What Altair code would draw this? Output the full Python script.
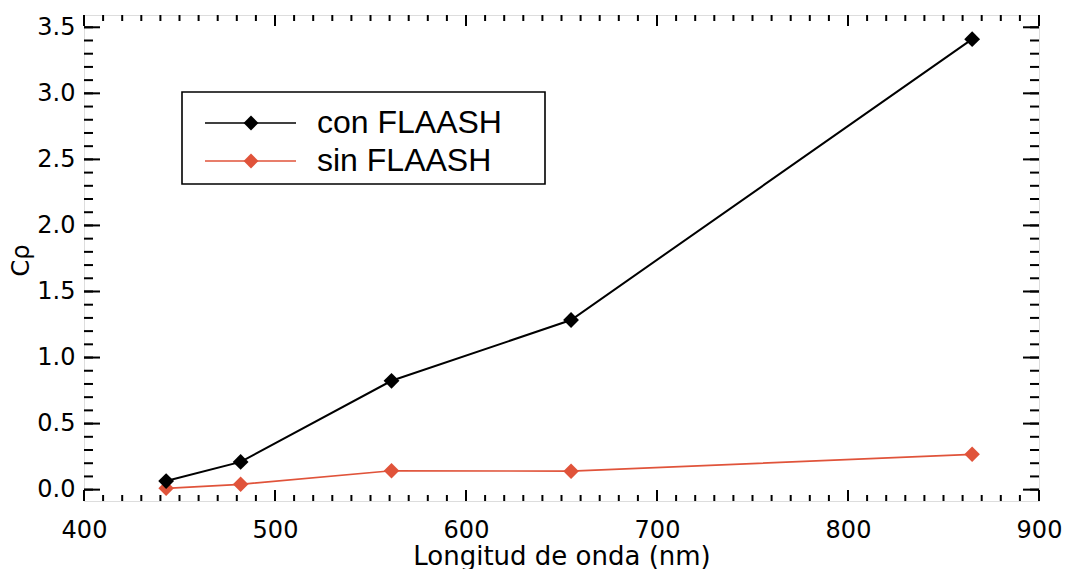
import altair as alt
import pandas as pd

# ---- data ----
wavelength = [443, 482, 561, 655, 865]
con_flaash = [0.065, 0.21, 0.824, 1.284, 3.41]
sin_flaash = [0.01, 0.04, 0.143, 0.14, 0.267]
series_names = ["con FLAASH", "sin FLAASH"]
series_colors = ["#000000", "#e0533a"]

x_major = [400, 500, 600, 700, 800, 900]
x_minor = [400 + 10 * i for i in range(51)]
y_major = [0.0, 0.5, 1.0, 1.5, 2.0, 2.5, 3.0, 3.5]
y_minor = [round(0.1 * i, 1) for i in range(36)]

x_title = "Longitud de onda (nm)"
y_title = "Cρ"

W, H = 955, 486
x_scale = alt.Scale(domain=[400, 900], nice=False, zero=False)
y_scale = alt.Scale(domain=[-0.086, 3.593], nice=False, zero=False)

df_con = pd.DataFrame({"wavelength": wavelength, "value": con_flaash})
df_sin = pd.DataFrame({"wavelength": wavelength, "value": sin_flaash})

x_axis = alt.Axis(values=x_major, ticks=False, tickSize=0, domain=False, grid=False,
                  labelFont="DejaVu Sans", labelFontSize=24, labelPadding=17,
                  labelColor="black", labelFlush=False, labelOverlap=False,
                  title=x_title, titleFont="DejaVu Sans", titleFontSize=26,
                  titleFontWeight="normal", titleColor="black", titleY=63,
                  titleBaseline="alphabetic")
y_axis = alt.Axis(values=y_major, format=".1f", ticks=False, tickSize=0, domain=False,
                  grid=False, labelFont="DejaVu Sans", labelFontSize=24, labelPadding=9,
                  labelColor="black", labelFlush=False, labelOverlap=False,
                  title=y_title, titleFont="DejaVu Sans", titleFontSize=24,
                  titleFontWeight="normal", titleColor="black", titleX=-63, titleY=245,
                  titleAngle=-90, titleAlign="center", titleBaseline="middle")


def X(field):
    return alt.X(field, scale=x_scale, axis=x_axis)


def Y(field):
    return alt.Y(field, scale=y_scale, axis=y_axis)


sin_line = alt.Chart(df_sin).mark_line(color=series_colors[1], strokeWidth=1.7).encode(
    x=X("wavelength:Q"), y=Y("value:Q"))
sin_pts = alt.Chart(df_sin).mark_point(shape="diamond", filled=True, size=240,
                                       color=series_colors[1], opacity=1).encode(
    x=X("wavelength:Q"), y=Y("value:Q"))
con_line = alt.Chart(df_con).mark_line(color=series_colors[0], strokeWidth=2).encode(
    x=X("wavelength:Q"), y=Y("value:Q"))
con_pts = alt.Chart(df_con).mark_point(shape="diamond", filled=True, size=250,
                                       color=series_colors[0], opacity=1).encode(
    x=X("wavelength:Q"), y=Y("value:Q"))


# inward ticks on all four sides
def xticks(vals, length):
    d = pd.DataFrame({"wavelength": vals})
    bottom = alt.Chart(d).mark_rule(color="black", strokeWidth=2).encode(
        x=X("wavelength:Q"), y=alt.value(H), y2=alt.value(H - length))
    top = alt.Chart(d).mark_rule(color="black", strokeWidth=2).encode(
        x=X("wavelength:Q"), y=alt.value(0), y2=alt.value(length))
    return [bottom, top]


def yticks(vals, length):
    d = pd.DataFrame({"value": vals})
    left = alt.Chart(d).mark_rule(color="black", strokeWidth=2).encode(
        y=Y("value:Q"), x=alt.value(0), x2=alt.value(length))
    right = alt.Chart(d).mark_rule(color="black", strokeWidth=2).encode(
        y=Y("value:Q"), x=alt.value(W), x2=alt.value(W - length))
    return [left, right]


tick_layers = xticks(x_minor, 6) + xticks(x_major, 11) + yticks(y_minor, 9) + yticks(y_major, 16)

# legend box (drawn by hand to match the reference)
one = pd.DataFrame({"a": [0]})
leg_box = alt.Chart(one).mark_rect(fill="white", stroke="black", strokeWidth=1.6).encode(
    x=alt.value(98), x2=alt.value(461), y=alt.value(77), y2=alt.value(169))

leg_layers = []
for name, col, ypix in zip(series_names, series_colors, [108, 146]):
    d = pd.DataFrame({"name": [name]})
    leg_layers.append(alt.Chart(d).mark_rule(color=col, strokeWidth=1.7).encode(
        x=alt.value(121), x2=alt.value(212), y=alt.value(ypix)))
    leg_layers.append(alt.Chart(d).mark_point(shape="diamond", filled=True, size=220,
                                              color=col, opacity=1).encode(
        x=alt.value(167), y=alt.value(ypix)))
    leg_layers.append(alt.Chart(d).mark_text(font="Liberation Sans", fontSize=32,
                                             align="left", baseline="middle",
                                             color="black").encode(
        x=alt.value(233), y=alt.value(ypix), text="name:N"))

chart = alt.layer(
    sin_line, *tick_layers, sin_pts, con_line, con_pts, leg_box, *leg_layers
).properties(
    width=W, height=H,
    padding={"left": 84, "top": 15, "right": 26, "bottom": 68},
    autosize=alt.AutoSizeParams(type="none"),
).configure_view(
    stroke="black", strokeWidth=3
).configure(background="white")

chart.save("out.html", embed_options={"renderer": "svg", "actions": False})
